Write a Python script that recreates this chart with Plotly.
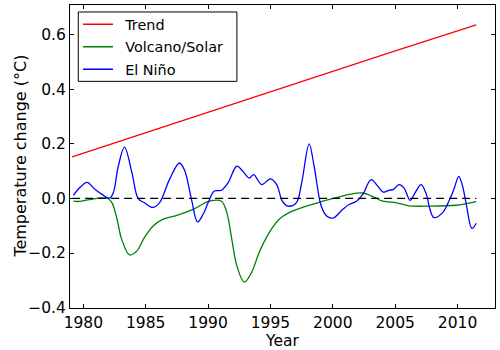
import plotly.graph_objects as go

# ---- data ----
trend_years = [1979.1, 1985.0, 1990.0, 1995.0, 2000.0, 2005.0, 2011.5]
trend_vals = [0.152, 0.241, 0.316, 0.391, 0.466, 0.541, 0.636]

volc_years = [1979.2, 1979.7, 1980.5, 1981.6, 1982.0, 1982.3, 1982.7, 1983.07, 1983.7, 1984.3,
              1984.9, 1985.6, 1986.4, 1987.5, 1988.8, 1990.1, 1991.07, 1991.5, 1991.9, 1992.3,
              1992.9, 1993.5, 1994.1, 1994.9, 1995.7, 1996.5, 1997.9, 1999.2, 2000.5, 2001.3,
              2002.4, 2003.2, 2004.0, 2005.1, 2006.1, 2007.7, 2009.9, 2010.7, 2011.5]
volc_vals = [-0.010, -0.011, -0.004, 0.002, -0.001, -0.016, -0.076, -0.149, -0.207, -0.192,
             -0.143, -0.101, -0.076, -0.062, -0.040, -0.010, -0.010, -0.052, -0.149, -0.246,
             -0.307, -0.270, -0.197, -0.125, -0.076, -0.052, -0.028, -0.010, 0.006, 0.015,
             0.020, 0.007, -0.010, -0.016, -0.027, -0.028, -0.025, -0.019, -0.012]

nino_years = [1979.2, 1979.7, 1980.3, 1980.9, 1981.5, 1982.1, 1982.4, 1982.8, 1983.3, 1983.9,
              1984.4, 1984.9, 1985.55, 1986.1, 1986.9, 1987.7, 1988.1, 1988.7, 1989.15, 1989.6,
              1990.0, 1990.5, 1991.07, 1991.6, 1992.3, 1992.8, 1993.3, 1993.65, 1994.3, 1995.0,
              1995.5, 1995.95, 1996.4, 1997.07, 1997.5, 1998.1, 1998.5, 1999.07, 1999.5, 2000.0,
              2000.8, 2001.3, 2001.9, 2002.4, 2003.07, 2003.6, 2004.05, 2004.5, 2004.85, 2005.3,
              2005.7, 2006.2, 2006.6, 2007.07, 2007.5, 2007.75, 2008.1, 2008.8, 2009.3, 2009.7,
              2010.1, 2010.4, 2010.7, 2011.15, 2011.5]
nino_vals = [0.011, 0.039, 0.059, 0.035, 0.015, 0.001, 0.021, 0.118, 0.188, 0.093,
             -0.001, -0.016, -0.033, -0.016, 0.069, 0.130, 0.105, -0.010, -0.086, -0.058,
             -0.016, 0.027, 0.030, 0.057, 0.118, 0.099, 0.075, 0.087, 0.051, 0.072,
             0.051, -0.010, -0.028, -0.016, 0.057, 0.200, 0.118, -0.028, -0.064, -0.072,
             -0.040, -0.022, -0.010, 0.015, 0.069, 0.045, 0.023, 0.030, 0.033, 0.051,
             0.039, -0.007, 0.021, 0.051, 0.015, -0.034, -0.070, -0.052, -0.010, 0.033,
             0.081, 0.045, -0.022, -0.110, -0.091]

zero_years = [1979.1, 2011.5]
zero_vals = [0.0, 0.0]

x_ticks = [1980, 1985, 1990, 1995, 2000, 2005, 2010]
y_ticks = [-0.4, -0.2, 0.0, 0.2, 0.4, 0.6]
y_ticktext = ["\u22120.4", "\u22120.2", "0.0", "0.2", "0.4", "0.6"]

FONT = "DejaVu Sans"
PAD = "\u2002"

fig = go.Figure()
fig.add_trace(go.Scatter(x=trend_years, y=trend_vals, mode="lines", name=PAD + "Trend",
                         legendgroup="a", line=dict(color="red", width=1.3)))
fig.add_trace(go.Scatter(x=volc_years, y=volc_vals, mode="lines", name=PAD + "Volcano/Solar",
                         legendgroup="b",
                         line=dict(color="green", width=1.3, shape="spline", smoothing=1)))
fig.add_trace(go.Scatter(x=nino_years, y=nino_vals, mode="lines", name=PAD + "El Niño",
                         legendgroup="c",
                         line=dict(color="blue", width=1.3, shape="spline", smoothing=1)))
fig.add_trace(go.Scatter(x=zero_years, y=zero_vals, mode="lines", showlegend=False,
                         line=dict(color="black", width=1.3, dash="8px,5px")))

# legend frame (decoration)
fig.add_shape(type="rect", xref="paper", yref="paper", x0=0.0195, x1=0.3927, y0=0.748, y1=0.977,
              line=dict(color="black", width=1), fillcolor="white", layer="above")

fig.update_layout(
    width=500, height=350,
    margin=dict(l=70, r=4, t=4, b=40),
    paper_bgcolor="white", plot_bgcolor="white",
    font=dict(family=FONT, size=15.5, color="black"),
    showlegend=True,
    legend=dict(x=(78 - 70) / 426, y=(310 - 7.4) / 306, xanchor="left", yanchor="top",
                bgcolor="rgba(0,0,0,0)", borderwidth=0,
                tracegroupgap=0.8,
                font=dict(family=FONT, size=14.4, color="black")),
    annotations=[dict(text="Temperature change (°C)", textangle=-90, xref="paper", yref="paper",
                      x=(20 - 70) / 426, y=0.5, xanchor="center", yanchor="middle",
                      showarrow=False, font=dict(family=FONT, size=16, color="black"))],
)
fig.update_xaxes(range=[1978.93, 2013.0], tickvals=x_ticks, ticks="inside", ticklen=4,
                 tickcolor="black", showline=True, linecolor="black", linewidth=1,
                 mirror="ticks", showgrid=False, zeroline=False,
                 title=dict(text="Year", standoff=4,
                            font=dict(family=FONT, size=15.5, color="black")))
fig.update_yaxes(range=[-0.4015, 0.709], tickvals=y_ticks, ticktext=y_ticktext,
                 ticks="inside", ticklen=4, tickcolor="black", showline=True,
                 linecolor="black", linewidth=1, mirror="ticks", showgrid=False,
                 zeroline=False)

fig.write_html("out.html")
